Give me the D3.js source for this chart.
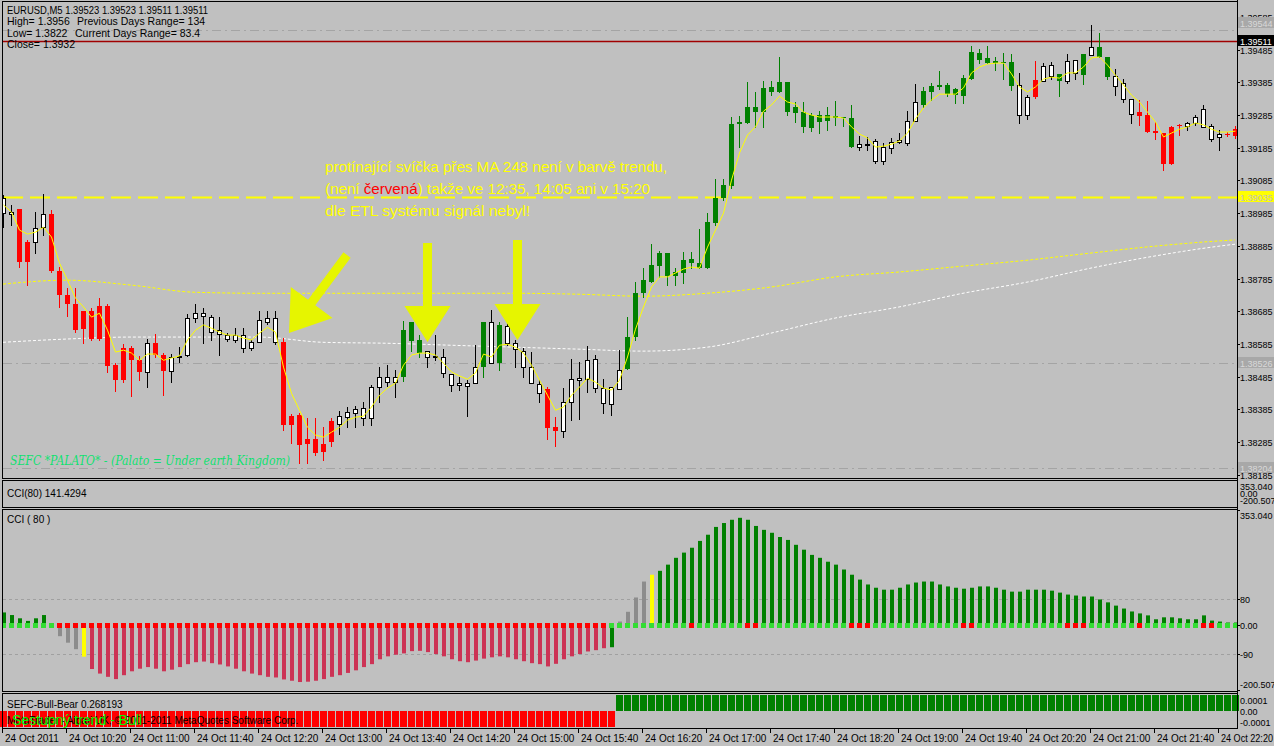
<!DOCTYPE html>
<html><head><meta charset="utf-8">
<script src="https://cdn.jsdelivr.net/npm/d3@7"></script>
<style>body{margin:0;background:#c0c0c0;overflow:hidden}svg{display:block}text{font-family:"Liberation Sans",Arial,sans-serif}</style>
</head><body><svg id="c" width="1274" height="746"></svg>
<script>
// ---------- DATA ----------
const openP=[1.38985,1.38982,1.38997,1.38896,1.38896,1.38942,1.38982,1.38808,1.38734,1.38707,1.38685,1.38685,1.38701,1.38701,1.38520,1.38572,1.38572,1.38535,1.38499,1.38587,1.38551,1.38502,1.38545,1.38551,1.38664,1.38670,1.38667,1.38615,1.38600,1.38597,1.38572,1.38572,1.38590,1.38652,1.38590,1.38590,1.38364,1.38367,1.38294,1.38294,1.38278,1.38349,1.38339,1.38361,1.38373,1.38358,1.38358,1.38453,1.38468,1.38468,1.38483,1.38594,1.38557,1.38563,1.38545,1.38545,1.38493,1.38459,1.38456,1.38465,1.38514,1.38652,1.38526,1.38587,1.38587,1.38563,1.38514,1.38462,1.38447,1.38330,1.38318,1.38407,1.38474,1.38477,1.38539,1.38450,1.38401,1.38447,1.38508,1.38606,1.38741,1.38774,1.38823,1.38863,1.38793,1.38802,1.38832,1.38817,1.38817,1.38954,1.39031,1.39068,1.39258,1.39261,1.39294,1.39294,1.39356,1.39356,1.39386,1.39291,1.39294,1.39285,1.39264,1.39267,1.39276,1.39276,1.39276,1.39187,1.39197,1.39205,1.39144,1.39184,1.39202,1.39199,1.39267,1.39316,1.39356,1.39371,1.39349,1.39346,1.39343,1.39395,1.39453,1.39444,1.39444,1.39444,1.39447,1.39377,1.39285,1.39340,1.39389,1.39404,1.39411,1.39389,1.39414,1.39407,1.39469,1.39493,1.39463,1.39404,1.39383,1.39334,1.39294,1.39285,1.39236,1.39230,1.39135,1.39251,1.39251,1.39261,1.39249,1.39251,1.39227,1.39227,1.39221];
const highP=[1.39040,1.39010,1.38999,1.38903,1.38988,1.39043,1.38994,1.38820,1.38756,1.38756,1.38685,1.38695,1.38725,1.38707,1.38526,1.38584,1.38578,1.38548,1.38600,1.38615,1.38557,1.38554,1.38575,1.38676,1.38707,1.38695,1.38673,1.38667,1.38618,1.38633,1.38633,1.38597,1.38685,1.38685,1.38685,1.38603,1.38370,1.38373,1.38358,1.38358,1.38330,1.38358,1.38379,1.38392,1.38395,1.38407,1.38459,1.38514,1.38520,1.38505,1.38655,1.38652,1.38612,1.38563,1.38612,1.38569,1.38493,1.38483,1.38474,1.38581,1.38652,1.38688,1.38652,1.38658,1.38597,1.38572,1.38560,1.38474,1.38453,1.38361,1.38450,1.38539,1.38529,1.38578,1.38551,1.38477,1.38453,1.38566,1.38667,1.38774,1.38817,1.38890,1.38869,1.38863,1.38817,1.38866,1.38866,1.38936,1.38985,1.39089,1.39089,1.39279,1.39282,1.39386,1.39356,1.39389,1.39389,1.39463,1.39386,1.39325,1.39325,1.39291,1.39297,1.39310,1.39328,1.39279,1.39316,1.39221,1.39218,1.39212,1.39199,1.39215,1.39230,1.39297,1.39380,1.39371,1.39383,1.39420,1.39383,1.39368,1.39407,1.39496,1.39487,1.39496,1.39463,1.39475,1.39472,1.39414,1.39346,1.39450,1.39444,1.39447,1.39411,1.39472,1.39453,1.39472,1.39561,1.39536,1.39463,1.39426,1.39395,1.39334,1.39331,1.39328,1.39264,1.39230,1.39251,1.39258,1.39264,1.39285,1.39316,1.39258,1.39239,1.39233,1.39251];
const lowP=[1.38942,1.38949,1.38820,1.38765,1.38863,1.38918,1.38805,1.38698,1.38670,1.38621,1.38587,1.38597,1.38597,1.38499,1.38441,1.38468,1.38425,1.38474,1.38453,1.38545,1.38428,1.38468,1.38529,1.38548,1.38652,1.38587,1.38597,1.38551,1.38594,1.38590,1.38560,1.38566,1.38590,1.38646,1.38584,1.38321,1.38281,1.38220,1.38220,1.38245,1.38229,1.38272,1.38309,1.38330,1.38330,1.38337,1.38337,1.38407,1.38456,1.38422,1.38471,1.38563,1.38545,1.38514,1.38535,1.38483,1.38441,1.38444,1.38364,1.38465,1.38483,1.38526,1.38505,1.38581,1.38514,1.38483,1.38465,1.38407,1.38294,1.38272,1.38300,1.38352,1.38355,1.38438,1.38438,1.38373,1.38367,1.38447,1.38508,1.38597,1.38728,1.38774,1.38790,1.38765,1.38765,1.38771,1.38817,1.38817,1.38817,1.38949,1.39025,1.39062,1.39187,1.39261,1.39249,1.39249,1.39346,1.39356,1.39285,1.39264,1.39233,1.39236,1.39230,1.39239,1.39255,1.39251,1.39187,1.39178,1.39178,1.39138,1.39135,1.39169,1.39199,1.39193,1.39267,1.39310,1.39331,1.39365,1.39343,1.39322,1.39322,1.39395,1.39444,1.39444,1.39423,1.39395,1.39362,1.39261,1.39273,1.39337,1.39389,1.39395,1.39343,1.39383,1.39395,1.39380,1.39469,1.39463,1.39395,1.39346,1.39325,1.39261,1.39255,1.39233,1.39212,1.39117,1.39135,1.39224,1.39239,1.39255,1.39249,1.39206,1.39178,1.39221,1.39215];
const closeP=[1.39031,1.38988,1.38835,1.38835,1.38939,1.38982,1.38808,1.38734,1.38707,1.38627,1.38630,1.38600,1.38600,1.38517,1.38474,1.38474,1.38535,1.38499,1.38587,1.38551,1.38502,1.38545,1.38548,1.38664,1.38679,1.38679,1.38621,1.38627,1.38612,1.38612,1.38612,1.38590,1.38658,1.38664,1.38664,1.38337,1.38337,1.38275,1.38278,1.38251,1.38254,1.38284,1.38364,1.38376,1.38385,1.38388,1.38453,1.38483,1.38483,1.38483,1.38627,1.38652,1.38597,1.38545,1.38548,1.38496,1.38459,1.38465,1.38465,1.38514,1.38652,1.38526,1.38643,1.38640,1.38569,1.38514,1.38465,1.38434,1.38327,1.38318,1.38407,1.38477,1.38480,1.38535,1.38450,1.38404,1.38453,1.38505,1.38606,1.38741,1.38780,1.38826,1.38863,1.38793,1.38805,1.38841,1.38844,1.38832,1.38958,1.39031,1.39071,1.39258,1.39264,1.39310,1.39310,1.39368,1.39371,1.39386,1.39294,1.39310,1.39249,1.39245,1.39285,1.39285,1.39282,1.39279,1.39187,1.39197,1.39193,1.39144,1.39187,1.39202,1.39209,1.39267,1.39325,1.39359,1.39374,1.39377,1.39377,1.39365,1.39398,1.39478,1.39475,1.39459,1.39450,1.39447,1.39374,1.39285,1.39340,1.39392,1.39435,1.39438,1.39389,1.39450,1.39453,1.39472,1.39493,1.39463,1.39401,1.39374,1.39334,1.39288,1.39282,1.39233,1.39230,1.39135,1.39249,1.39255,1.39261,1.39279,1.39303,1.39212,1.39218,1.39224,1.39242];
// candle paint: w = plain, r = bear-trend, g = bull-trend
const candleTrend="wwrrwwrrrrrrrrrrrrwrrwwwwwwwwwwwwwwrrrrrrrwwwwwwwwgggwwwwwwwgwgwwwwwrrwwwwwwwwgggggggggggggggggggggggggggggwwwwwwwwggggggggggggwwrwwgwwgwggwwwrrrrrrwwwwwrrww";
// fast MA (yellow solid), one value per bar
const fastMA=[1.39010,1.38988,1.38933,1.38921,1.38927,1.38942,1.38912,1.38832,1.38780,1.38725,1.38698,1.38667,1.38679,1.38627,1.38560,1.38566,1.38557,1.38535,1.38554,1.38554,1.38535,1.38542,1.38548,1.38597,1.38627,1.38643,1.38633,1.38621,1.38612,1.38612,1.38603,1.38597,1.38618,1.38636,1.38621,1.38514,1.38434,1.38382,1.38330,1.38306,1.38300,1.38315,1.38330,1.38352,1.38361,1.38364,1.38392,1.38428,1.38450,1.38465,1.38520,1.38551,1.38557,1.38557,1.38551,1.38526,1.38499,1.38487,1.38477,1.38496,1.38554,1.38545,1.38581,1.38584,1.38575,1.38557,1.38520,1.38474,1.38428,1.38382,1.38392,1.38428,1.38453,1.38480,1.38468,1.38450,1.38444,1.38474,1.38545,1.38630,1.38698,1.38759,1.38790,1.38790,1.38802,1.38814,1.38820,1.38817,1.38881,1.38933,1.38985,1.39086,1.39169,1.39224,1.39249,1.39297,1.39316,1.39343,1.39325,1.39319,1.39294,1.39285,1.39279,1.39279,1.39279,1.39276,1.39249,1.39227,1.39215,1.39187,1.39190,1.39196,1.39206,1.39230,1.39273,1.39307,1.39331,1.39349,1.39349,1.39349,1.39368,1.39414,1.39432,1.39441,1.39444,1.39444,1.39411,1.39371,1.39356,1.39371,1.39395,1.39401,1.39398,1.39414,1.39414,1.39432,1.39460,1.39463,1.39438,1.39407,1.39377,1.39346,1.39325,1.39294,1.39264,1.39218,1.39230,1.39242,1.39249,1.39261,1.39255,1.39242,1.39233,1.39233,1.39236];
// slow MAs read at bar indices
const slowIdx=[0,8,16,24,32,40,48,56,64,72,80,88,96,104,112,120,128,136,144,152,154];
const slowMA=[1.38768,1.38780,1.38765,1.38743,1.38740,1.38740,1.38740,1.38740,1.38740,1.38737,1.38731,1.38740,1.38759,1.38790,1.38805,1.38823,1.38841,1.38863,1.38884,1.38900,1.38903];
const ma248=[1.38590,1.38600,1.38606,1.38606,1.38606,1.38590,1.38587,1.38581,1.38575,1.38569,1.38563,1.38575,1.38618,1.38664,1.38698,1.38740,1.38774,1.38817,1.38854,1.38884,1.38890];
// CCI(80) histogram
const cci=[38,30,20,12,20,30,5,-35,-55,-75,-98,-136,-150,-160,-167,-155,-143,-135,-130,-135,-143,-138,-130,-121,-115,-113,-118,-122,-128,-135,-143,-150,-155,-160,-162,-168,-172,-176,-175,-172,-167,-160,-155,-148,-140,-130,-121,-106,-97,-92,-88,-81,-80,-84,-90,-97,-106,-112,-115,-110,-104,-100,-97,-100,-106,-112,-118,-121,-128,-120,-106,-97,-90,-82,-78,-72,-69,10,40,84,133,154,166,185,206,222,237,258,277,301,313,323,329,323,304,292,283,270,261,246,231,215,206,194,185,170,154,139,124,114,108,108,114,124,130,133,133,124,118,114,111,114,118,118,114,108,102,102,108,108,108,105,99,93,90,87,87,78,69,59,50,41,35,29,17,23,23,20,17,17,29,13,10,7,7];
const cciPaint="gggggggnnnyrrrrrrrrrrrrrrrrrrrrrrrrrrrrrrrrrrrrrrrrrrrrrrrrrrrrrrrrrrrrrrrrrgnnnnygggggggggggggggggggggggggggggggggggggggggggggggggggggggggggggggggggggggggg";
const zeroDots="gggggggrrrrrrrrrrrrrrrrrrrrrrrrrrrrrrrrrrrrrrrrrrrrrrrrrrrrrrrrrrrrrrrrrrrrrggggggggggrggggggrrgggggggggggrrrgggggggggggrrgggggggggggrrrggggggrgggggggrrgggggg";
const bullBear=Array.from({length:155},(_,i)=>i<77?-1:1);
const priceTicks=[1.38185,1.38285,1.38385,1.38485,1.38585,1.38685,1.38785,1.38885,1.38985,1.39085,1.39185,1.39285,1.39385,1.39485,1.39585];
const timeLabels=["24 Oct 2011","24 Oct 10:20","24 Oct 11:00","24 Oct 11:40","24 Oct 12:20","24 Oct 13:00","24 Oct 13:40","24 Oct 14:20","24 Oct 15:00","24 Oct 15:40","24 Oct 16:20","24 Oct 17:00","24 Oct 17:40","24 Oct 18:20","24 Oct 19:00","24 Oct 19:40","24 Oct 20:20","24 Oct 21:00","24 Oct 21:40","24 Oct 22:20"];
const cciTicks=[353.04,80,0,-90,-200.507];

// ---------- LAYOUT ----------
const svg=d3.select("#c");
const FR=1237; // right frame x
const x=d3.scaleLinear().domain([0,154]).range([3,1235]);
const y=d3.scaleLinear().domain([1.38285,1.39585]).range([442,17]);
const yc=d3.scaleLinear().domain([-200.507,353.04]).range([690,510]);
const yb=d3.scaleLinear().domain([-0.0001,0.0001]).range([727,695]);
const BG="#c0c0c0";
svg.append("rect").attr("width",1274).attr("height",746).attr("fill",BG);

const defs=svg.append("defs");
defs.append("clipPath").attr("id","cm").append("rect").attr("x",3).attr("y",1).attr("width",FR-3).attr("height",476);
defs.append("clipPath").attr("id","cc").append("rect").attr("x",3).attr("y",510).attr("width",FR-3).attr("height",180);

const main=svg.append("g").attr("clip-path","url(#cm)");
const dashDot="9,4,2,4";
[[1.39544,"#a4a4a4",dashDot,1],[1.38526,"#a4a4a4",dashDot,1],[1.38204,"#a4a4a4",dashDot,1]].forEach(d=>{
  main.append("line").attr("x1",3).attr("x2",FR).attr("y1",Math.round(y(d[0]))+0.5).attr("y2",Math.round(y(d[0]))+0.5)
   .attr("stroke",d[1]).attr("stroke-dasharray",d[2]).attr("stroke-width",d[3]);
});
main.append("line").attr("x1",3).attr("x2",FR).attr("y1",Math.round(y(1.39035))+0.5).attr("y2",Math.round(y(1.39035))+0.5)
  .attr("stroke","#ffff00").attr("stroke-width",2).attr("stroke-dasharray","20,7");
main.append("line").attr("x1",3).attr("x2",FR).attr("y1",Math.round(y(1.39511))+0.5).attr("y2",Math.round(y(1.39511))+0.5)
  .attr("stroke","#a00000").attr("stroke-width",1.5);

const slowLine=d3.line().x((d,i)=>x(slowIdx[i])).y(d=>y(d)).curve(d3.curveMonotoneX);
main.append("path").attr("d",slowLine(slowMA)).attr("fill","none").attr("stroke","#ffff00").attr("stroke-width",1).attr("stroke-dasharray","3,2");
main.append("path").attr("d",slowLine(ma248)).attr("fill","none").attr("stroke","#ffffff").attr("stroke-width",1).attr("stroke-dasharray","3,2");

const col={r:"#ff0000",g:"#008000",w:"#000000"};
const cg=main.append("g");
openP.forEach((o,i)=>{
  const c=Math.round(x(i)), t=candleTrend[i];
  const yh=y(highP[i]), yl=y(lowP[i]);
  const yt=Math.round(y(Math.max(o,closeP[i]))), yB=Math.round(y(Math.min(o,closeP[i])));
  cg.append("line").attr("x1",c+0.5).attr("x2",c+0.5).attr("y1",Math.round(yh)).attr("y2",Math.round(yl)+1).attr("stroke",col[t]);
  if(t==="w"){
    cg.append("rect").attr("x",c-1.5).attr("y",yt+0.5).attr("width",4).attr("height",Math.max(yB-yt,0.01))
      .attr("fill",yB-yt<2?"#000":"#fff").attr("stroke","#000");
  } else {
    cg.append("rect").attr("x",c-2).attr("y",yt).attr("width",5).attr("height",Math.max(yB-yt,1)).attr("fill",col[t]);
  }
});
main.append("path").attr("d",d3.line().x((d,i)=>x(i)+0.5).y(d=>y(d))(fastMA)).attr("fill","none").attr("stroke","#ffff00").attr("stroke-width",1);

const ARW="#e6f500";
function arrow(x0,y0,x1,y1,shaft,headW,headL){
  const dx=x1-x0, dy=y1-y0, L=Math.hypot(dx,dy), ux=dx/L, uy=dy/L, px=-uy, py=ux;
  const bx=x1-ux*headL, by=y1-uy*headL;
  const pts=[[x0+px*shaft/2,y0+py*shaft/2],[bx+px*shaft/2,by+py*shaft/2],[bx+px*headW/2,by+py*headW/2],[x1,y1],
    [bx-px*headW/2,by-py*headW/2],[bx-px*shaft/2,by-py*shaft/2],[x0-px*shaft/2,y0-py*shaft/2]];
  main.append("polygon").attr("points",pts.map(p=>p.join(",")).join(" ")).attr("fill",ARW);
}
arrow(347,255,289,333,9,52,38);
arrow(427.5,243,427.5,342,9,46,36);
arrow(517.5,240,517.5,340,9,46,36);

const ann=main.append("g").attr("fill","#ffff00").style("font-size","15px");
ann.append("text").attr("x",325).attr("y",172).attr("textLength",342).attr("lengthAdjust","spacingAndGlyphs").text("protínající svíčka přes MA 248 není v barvě trendu,");
const t2=ann.append("text").attr("x",325).attr("y",194).attr("textLength",325).attr("lengthAdjust","spacingAndGlyphs");
t2.append("tspan").text("(není ");
t2.append("tspan").attr("fill","#ff0000").text("červená");
t2.append("tspan").text(") takže ve 12:35, 14:05 ani v 15:20");
ann.append("text").attr("x",325).attr("y",216).attr("textLength",205).attr("lengthAdjust","spacingAndGlyphs").text("dle ETL systému  signál nebyl!");

main.append("text").attr("x",10).attr("y",465).attr("fill","#10e070").style("font-size","13px").style("font-style","italic")
  .style("font-family","'DejaVu Serif',serif").attr("textLength",280).attr("lengthAdjust","spacingAndGlyphs")
  .text("SEFC *PALATO* - (Palato = Under earth Kingdom)");

const hd=svg.append("g").attr("fill","#000").style("font-size","10.5px");
hd.append("text").attr("x",7).attr("y",14).attr("textLength",201).attr("lengthAdjust","spacingAndGlyphs").text("EURUSD,M5  1.39523 1.39523 1.39511 1.39511");
hd.append("text").attr("x",7).attr("y",25).text("High= 1.3956");
hd.append("text").attr("x",77).attr("y",25).text("Previous Days Range= 134");
hd.append("text").attr("x",7).attr("y",37).text("Low= 1.3822");
hd.append("text").attr("x",75).attr("y",37).text("Current Days Range= 83.4");
hd.append("text").attr("x",7).attr("y",48).text("Close= 1.3932");

// ---------- CCI panel ----------
const cp=svg.append("g").attr("clip-path","url(#cc)");
[80,-90].forEach(v=>cp.append("line").attr("x1",3).attr("x2",FR).attr("y1",Math.round(yc(v))+0.5).attr("y2",Math.round(yc(v))+0.5)
  .attr("stroke","#a0a0a0").attr("stroke-dasharray","3,3"));
const cciCol={g:"#008000",r:"#cc3355",n:"#8c8c8c",y:"#ffff00"};
cci.forEach((v,i)=>{
  const c=Math.round(x(i)), y0=yc(0), y1=yc(v);
  cp.append("rect").attr("x",c-1).attr("y",Math.min(y0,y1)).attr("width",4).attr("height",Math.abs(y1-y0)).attr("fill",cciCol[cciPaint[i]]);
});
cci.forEach((v,i)=>{
  const c=Math.round(x(i));
  cp.append("rect").attr("x",c-2).attr("y",Math.round(yc(0))-2).attr("width",5).attr("height",5).attr("fill",zeroDots[i]==="g"?"#33dd33":"#ff0000");
});

// ---------- Bull/Bear panel ----------
const bp=svg.append("g");
bullBear.forEach((v,i)=>{
  const c=Math.round(x(i));
  bp.append("rect").attr("x",c-3).attr("y",Math.min(yb(0),yb(v*0.0001))).attr("width",7).attr("height",Math.abs(yb(v*0.0001)-yb(0)))
    .attr("fill",v<0?"#ff0000":"#008000");
});

// ---------- frames ----------
const fr=svg.append("g").attr("fill","none").attr("stroke","#000");
[[1,478],[480,507],[509,691],[693,728]].forEach(p=>fr.append("rect").attr("x",2.5).attr("y",p[0]+0.5).attr("width",FR-2).attr("height",p[1]-p[0]));

const pt=svg.append("g").style("font-size","10px").attr("fill","#000");
pt.append("text").attr("x",7).attr("y",497).text("CCI(80) 141.4294");
pt.append("text").attr("x",7).attr("y",523).text("CCI   ( 80 )");
pt.append("text").attr("x",7).attr("y",708).text("SEFC-Bull-Bear 0.268193");
svg.append("text").attr("x",12).attr("y",725).attr("fill","#00ff00").style("font-size","14px").text("Sestupný trend - Bull");
pt.append("text").attr("x",7).attr("y",724).text("MetaTrader - Alpari UK, © 2001-2011 MetaQuotes Software Corp.");

// ---------- right axes ----------
const ax=svg.append("g").style("font-size","9px").attr("fill","#000");
const LX=FR+3;
function lab(xx,yy,s,fill){
  return ax.append("text").attr("x",xx).attr("y",yy).attr("fill",fill||"#000").text(s);
}
priceTicks.forEach(v=>{
  const yy=Math.round(y(v));
  if(yy>477) return;
  ax.append("line").attr("x1",FR).attr("x2",FR+3).attr("y1",yy+0.5).attr("y2",yy+0.5).attr("stroke","#000");
  lab(LX,yy+3.5,v.toFixed(5));
});
function tag(v,yy,bg,fg){
  ax.append("rect").attr("x",FR+1).attr("y",yy-6).attr("width",36).attr("height",11).attr("fill",bg);
  lab(LX,yy+3.5,v,fg);
}
tag("1.39544",23,"#a8a8a8","#d8d8d8");
tag("1.39511",Math.round(y(1.39511)),"#000","#fff");
tag("1.39035",Math.round(y(1.39035)),"#ffff00","#c0c0c0");
tag("1.38526",Math.round(y(1.38526)),"#a8a8a8","#d8d8d8");
tag("1.38204",Math.round(y(1.38204)),"#a8a8a8","#d8d8d8");
lab(LX,490,"353.040");
lab(LX,497,"0.00");
lab(LX,504,"-200.507");
cciTicks.forEach(v=>{
  let yy=Math.round(yc(v));
  ax.append("line").attr("x1",FR).attr("x2",FR+3).attr("y1",yy+0.5).attr("y2",yy+0.5).attr("stroke","#000");
  const ty = v===353.04? yy+9 : v===-200.507? yy-2 : yy+4;
  lab(LX,ty,v===353.04?"353.040":v===0?"0.00":v===-200.507?"-200.507":String(v));
});
[[0.0001,"0.0001"],[0,"0.00"],[-0.0001,"-0.0001"]].forEach(d=>{
  const yy=Math.round(yb(d[0]));
  lab(LX,d[0]>0?yy+9:d[0]<0?yy-1:yy+4,d[1]);
});
svg.append("line").attr("x1",FR+0.5).attr("x2",FR+0.5).attr("y1",0).attr("y2",728).attr("stroke","#000");

// ---------- time axis ----------
const tx=svg.append("g").style("font-size","10px").attr("fill","#000");
timeLabels.forEach((s,k)=>{
  const c=Math.round(x(k*8))-1;
  tx.append("line").attr("x1",c+0.5).attr("x2",c+0.5).attr("y1",728).attr("y2",733).attr("stroke","#000");
  const t=tx.append("text").attr("x",c+3).attr("y",742).text(s);
  if(k===timeLabels.length-1) t.attr("textLength",52).attr("lengthAdjust","spacingAndGlyphs");
});
</script></body></html>
